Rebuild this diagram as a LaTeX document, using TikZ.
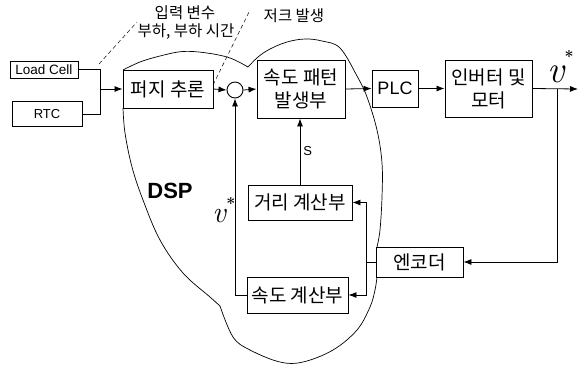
\documentclass[tikz,border=0pt]{standalone}
\usepackage{fontspec}
\setmainfont{Liberation Sans}
\newfontfamily\kr{Noto Sans CJK KR}
\newfontfamily\vser{Latin Modern Roman}
\usetikzlibrary{arrows.meta}
\tikzset{
  box/.style={draw, line width=0.9pt, fill=white, inner sep=0pt, align=center,
    font=\kr\fontsize{19}{23}\selectfont},
  lbox/.style={draw, line width=0.9pt, fill=white, inner sep=0pt, align=center},
  conn/.style={line width=0.8pt, -{Latex[length=8pt,width=6pt]}},
  plainline/.style={line width=0.8pt},
  blob/.style={line width=0.7pt},
  dashline/.style={line width=0.5pt, dash pattern=on 4pt off 3pt},
  lab/.style={font=\kr\fontsize{15.5}{17}\selectfont, inner sep=0pt},
  star/.style={inner sep=0pt, font=\vser\bfseries\fontsize{16}{16}\selectfont},
}
\begin{document}
\begin{tikzpicture}[x=1pt,y=-1pt]
\useasboundingbox (0,0) rectangle (581,365);
% DSP region
\draw[blob] plot[smooth, tension=0.6] coordinates {(123,70) (140,62) (160,56) (183,51.5) (207,53) (230,58) (248,67)};
\draw[blob] plot[smooth, tension=0.6] coordinates {(248,67) (258,57) (270,49) (287,42) (305,39) (322,41) (340,48) (357,76) (367,97) (377,130) (382,163) (382,197) (380,230) (377,247)};
\draw[blob] plot[smooth, tension=0.6] coordinates {(377,277) (375,290) (370,307) (357,330) (333,350) (303,362) (280,362) (250,350) (233,337) (220,306)};
\draw[blob] plot[smooth, tension=0.6] coordinates {(220,306) (210,297) (183,273) (160,240) (143,200) (132,167) (125,133) (123,108)};
% boxes
\node[lbox, minimum width=68pt, minimum height=17pt, font=\fontsize{13.5}{15}\selectfont] (lc) at (44,69.5) {Load Cell};
\node[lbox, minimum width=70pt, minimum height=25pt, font=\fontsize{13}{15}\selectfont] (rtc) at (47,114) {RTC};
\node[box, minimum width=90pt, minimum height=38pt] (fz) at (168,89) {퍼지 추론};
\node[draw, circle, line width=0.9pt, minimum size=16pt, inner sep=0pt] (sum) at (235,90) {};
\node[box, minimum width=88pt, minimum height=58pt] (sp) at (301,89) {속도 패턴\\발생부};
\node[lbox, minimum width=46pt, minimum height=37pt, font=\fontsize{18}{20}\selectfont] (plc) at (395,88.5) {PLC};
\node[box, minimum width=87pt, minimum height=57pt] (inv) at (488.5,88.5) {인버터 및\\모터};
\node[box, minimum width=87pt, minimum height=30pt] (enc) at (419.5,262) {엔코더};
\node[box, minimum width=104pt, minimum height=35pt] (dist) at (300,202.5) {거리 계산부};
\node[box, minimum width=101pt, minimum height=36pt] (spd) at (297.5,295) {속도 계산부};
% coordinates
\coordinate (j1) at (100,69.5);
\coordinate (j2) at (100,114);
\coordinate (j3) at (100,89);
\coordinate (out) at (578,89);
\coordinate (fb1) at (557,89);
\coordinate (fb2) at (557,262);
\coordinate (e1) at (366,262);
\coordinate (e2) at (366,202.5);
\coordinate (e3) at (366,295);
\coordinate (s1) at (235,295);
% connectors
\draw[plainline] (lc.east) -- (j1) -- (j2) -- (rtc.east);
\draw[conn] (j3) -- (fz.west);
\draw[conn] (fz.east) -- (sum.west);
\draw[conn] (sum.east) -- (sp.west);
\draw[conn] (sp.east) -- (plc.west);
\draw[conn] (plc.east) -- (inv.west);
\draw[conn] (inv.east) -- (out);
\draw[conn] (fb1) -- (fb2) -- (enc.east);
\draw[plainline] (enc.west) -- (e1);
\draw[conn] (e1) -- (e2) -- (dist.east);
\draw[conn] (e1) -- (e3) -- (spd.east);
\draw[conn] (spd.west) -- (s1) -- (sum.south);
\draw[conn] (dist.north) -- node[right, font=\fontsize{13}{14}\selectfont, inner sep=3pt] {S} (dist.north |- sp.south);
% dashed pointers
\coordinate (d1a) at (99,64);
\coordinate (d1b) at (137,22);
\coordinate (d2a) at (213,85);
\coordinate (d2b) at (250,10);
\draw[dashline] (d1a) -- (d1b);
\draw[dashline] (d2a) -- (d2b);
% labels
\node[lab] (l1) at (185,13) {입력 변수};
\node[lab] (l2) at (186,32) {부하, 부하 시간};
\node[lab] (l3) at (294,16) {저크 발생};
\node[font=\bfseries\fontsize{22}{24}\selectfont, inner sep=0pt] (dsp) at (170,191) {DSP};
\node[inner sep=0pt, anchor=base, font=\vser\itshape\fontsize{38}{38}\selectfont] (v1) at (556,82) {v};
\node[star] (st1) at (569,56) {*};
\node[inner sep=0pt, anchor=base, font=\vser\itshape\fontsize{30}{30}\selectfont] (v2) at (219,222) {v};
\node[star] (st2) at (231,203) {*};
\end{tikzpicture}
\end{document}
